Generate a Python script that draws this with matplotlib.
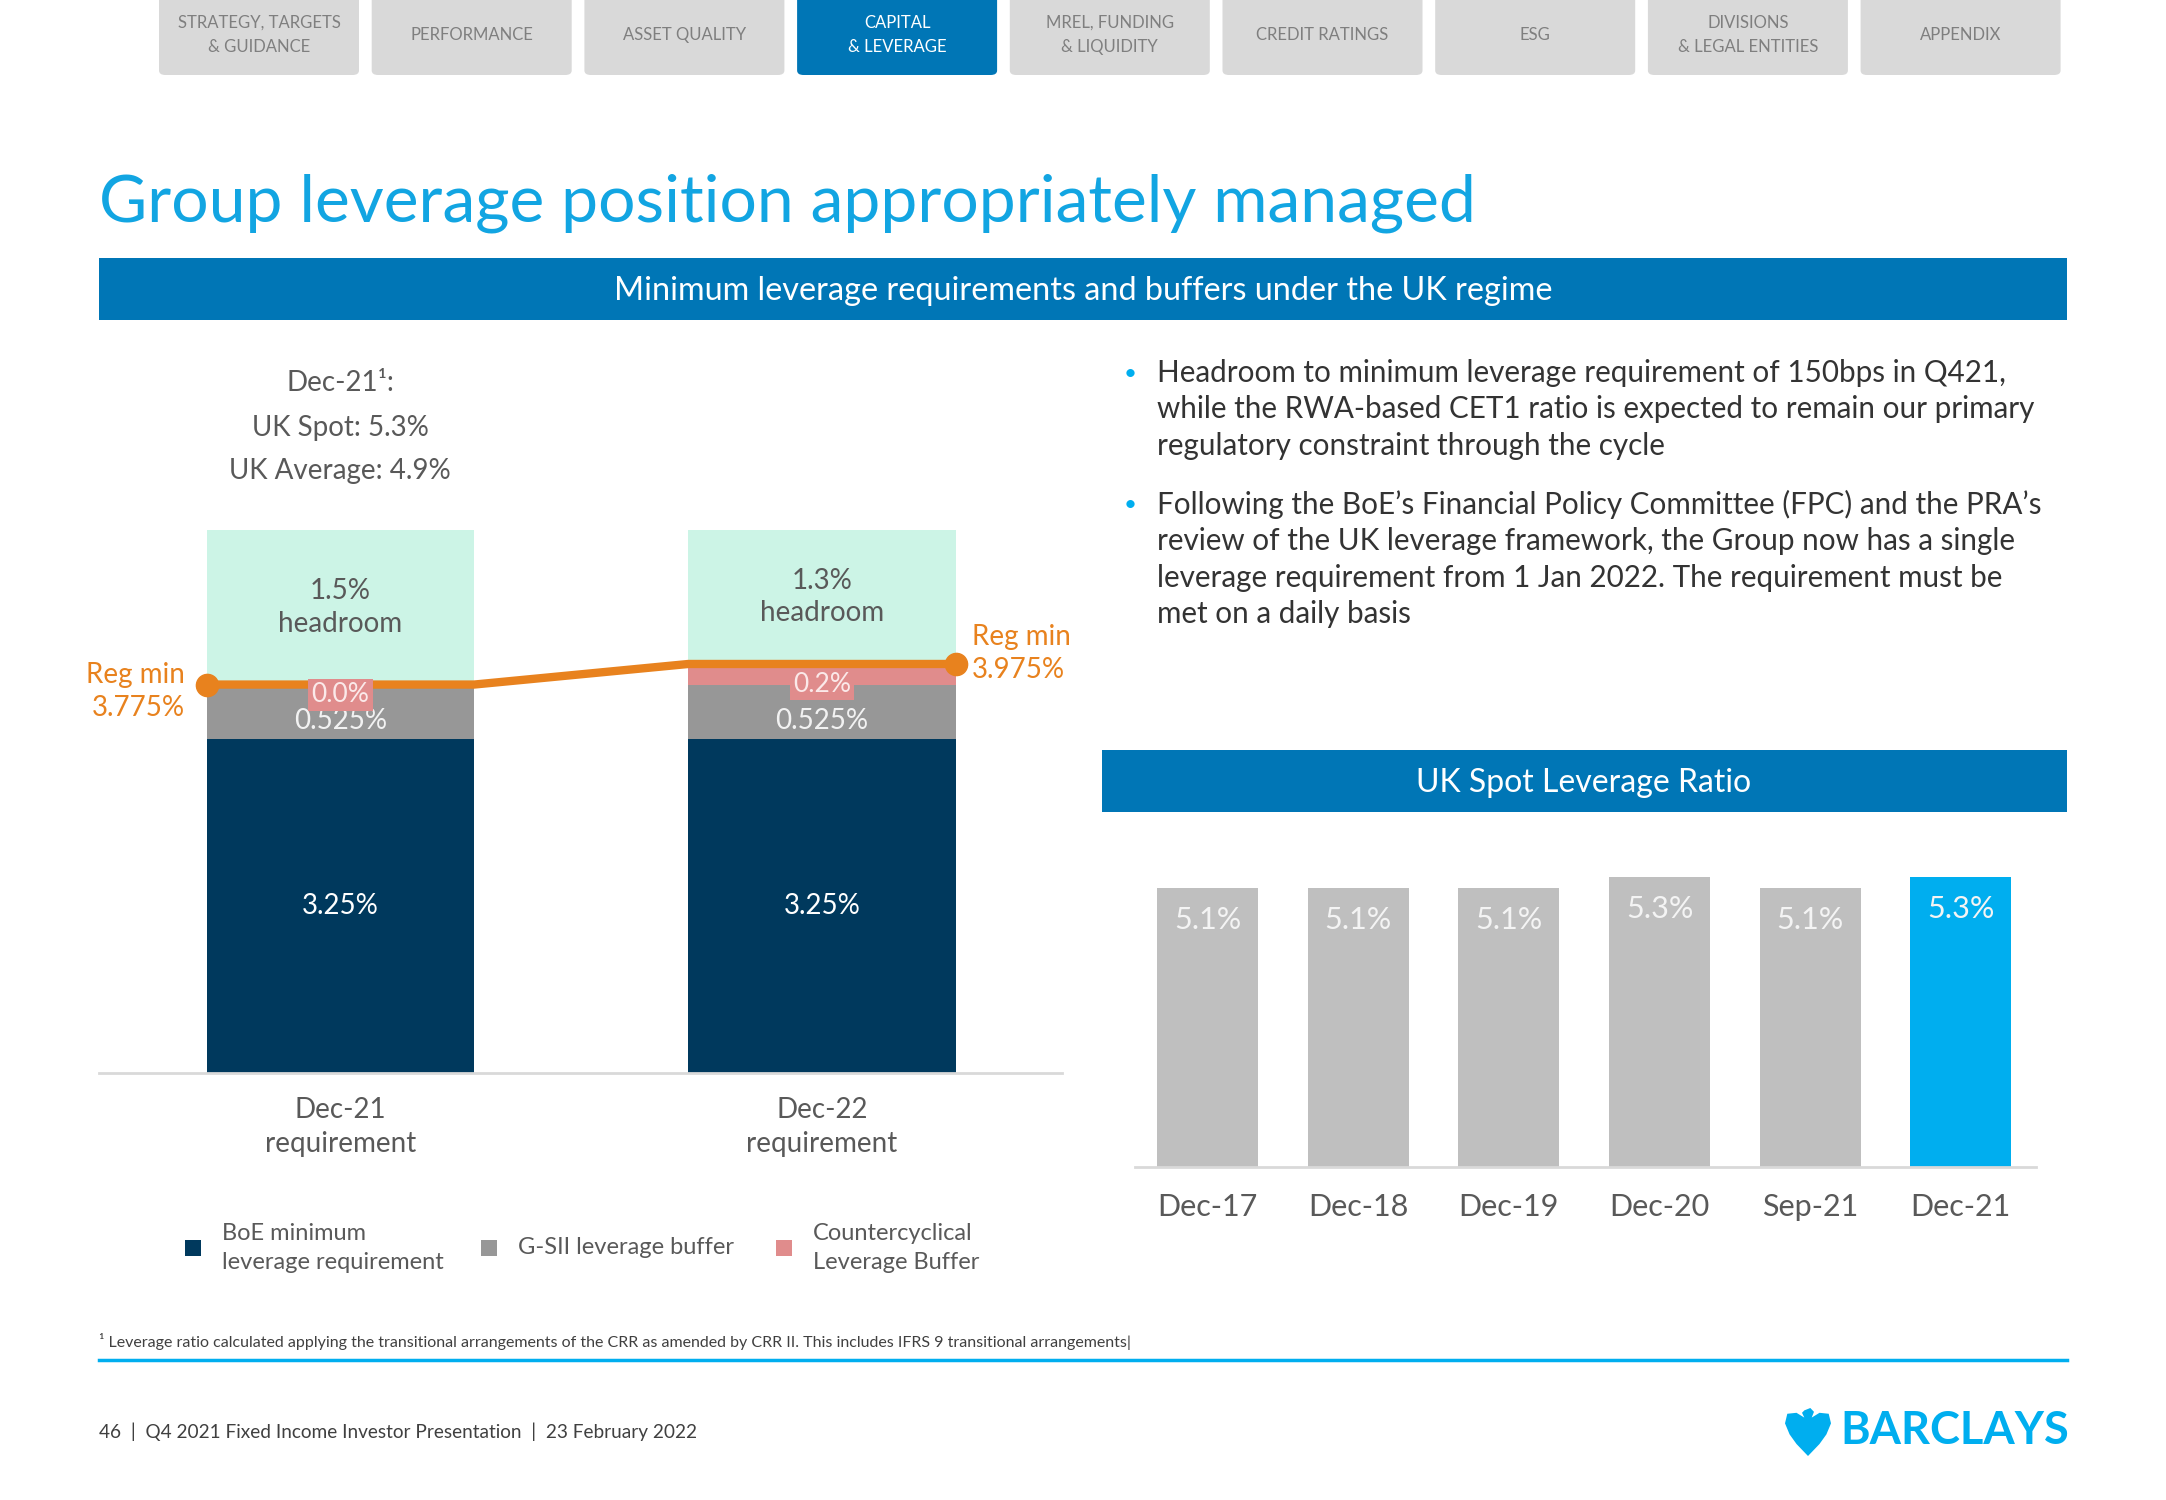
import matplotlib.pyplot as plt
from matplotlib.patches import Rectangle, FancyBboxPatch, Polygon
import numpy as np

plt.rcParams['font.family'] = ['Lato', 'DejaVu Sans']

# ---- data
req_labels = ['Dec-21\nrequirement', 'Dec-22\nrequirement']
boe_min = [3.25, 3.25]
gsii = [0.525, 0.525]
ccyb = [0.0, 0.2]
headroom = [1.5, 1.3]
reg_min = [3.775, 3.975]

spot_periods = ['Dec-17', 'Dec-18', 'Dec-19', 'Dec-20', 'Sep-21', 'Dec-21']
spot_ratio = [5.1, 5.1, 5.1, 5.3, 5.1, 5.3]

nav_tabs = ['STRATEGY, TARGETS\n& GUIDANCE', 'PERFORMANCE', 'ASSET QUALITY',
            'CAPITAL\n& LEVERAGE', 'MREL, FUNDING\n& LIQUIDITY', 'CREDIT RATINGS',
            'ESG', 'DIVISIONS\n& LEGAL ENTITIES', 'APPENDIX']
active_tab = 3

bullets = [
    "Headroom to minimum leverage requirement of 150bps in Q421,\n"
    "while the RWA-based CET1 ratio is expected to remain our primary\n"
    "regulatory constraint through the cycle",
    "Following the BoE\u2019s Financial Policy Committee (FPC) and the PRA\u2019s\n"
    "review of the UK leverage framework, the Group now has a single\n"
    "leverage requirement from 1 Jan 2022. The requirement must be\n"
    "met on a daily basis",
]

# colours
NAVY = '#00395D'
GREY = '#979797'
PINK = '#E08C8C'
MINT = '#CCF4E6'
ORANGE = '#E8821E'
CYAN = '#00AEEF'
BLUE = '#0076B6'
TXT = '#595959'

W, H = 2166, 1500
fig = plt.figure(figsize=(W / 100, H / 100), dpi=100)


def fx(x):
    return x / W


def fy(y):
    return 1 - y / H


def ftext(x, y, s, **kw):
    kw.setdefault('color', TXT)
    kw.setdefault('va', 'center')
    fig.text(fx(x), fy(y), s, **kw)


# ---- navigation tabs
for i, lab in enumerate(nav_tabs):
    x0 = 159 + i * 212.7
    fc = BLUE if i == active_tab else '#D9D9D9'
    tc = 'white' if i == active_tab else '#7F7F7F'
    fig.patches.append(FancyBboxPatch((fx(x0), fy(75)), 200 / W, 95 / H,
                                      boxstyle='round,pad=0,rounding_size=0.003',
                                      transform=fig.transFigure, fc=fc, ec='none'))
    ftext(x0 + 100, 35, lab, ha='center', fontsize=12, color=tc, linespacing=1.65)

# ---- title & banners
ftext(99, 203, 'Group leverage position appropriately managed', fontsize=47.5, color='#12A5E2')

fig.patches.append(Rectangle((fx(99), fy(320)), (2067 - 99) / W, 62 / H,
                             transform=fig.transFigure, fc=BLUE, ec='none'))
ftext(1083, 291, 'Minimum leverage requirements and buffers under the UK regime',
      ha='center', fontsize=23.3, color='white')

fig.patches.append(Rectangle((fx(1102), fy(812)), (2067 - 1102) / W, 62 / H,
                             transform=fig.transFigure, fc=BLUE, ec='none'))
ftext(1584, 783, 'UK Spot Leverage Ratio', ha='center', fontsize=23, color='white')

# ---- left chart: stacked requirement bars
ax1 = fig.add_axes([fx(99), fy(1073), (1062 - 99) / W, (1073 - 330) / H])
x = np.arange(len(req_labels))
bw = 0.555
b1 = np.array(boe_min)
b2 = b1 + np.array(gsii)
b3 = b2 + np.array(ccyb)
ax1.bar(x, boe_min, bw, color=NAVY)
ax1.bar(x, gsii, bw, bottom=b1, color=GREY)
ax1.bar(x, ccyb, bw, bottom=b2, color=PINK)
ax1.bar(x, headroom, bw, bottom=b3, color=MINT)

lx = np.ravel([[xi - bw / 2, xi + bw / 2] for xi in x])
ly = np.repeat(reg_min, 2)
ax1.plot(lx, ly, color=ORANGE, lw=6, solid_capstyle='butt')
ax1.plot(lx[[0, -1]], ly[[0, -1]], 'o', color=ORANGE, ms=16)

for i in x:
    ax1.text(i, boe_min[i] / 2, f'{boe_min[i]:.2f}%', ha='center', va='center',
             fontsize=20, color='white')
    ax1.text(i, b1[i] + gsii[i] / 2 - 0.09, f'{gsii[i]:.3f}%', ha='center', va='center',
             fontsize=20, color='#F2F2F2')
    ax1.text(i, b2[i] - 0.1 + ccyb[i] * 0.5, f'{ccyb[i]:.1f}%', ha='center', va='center',
             fontsize=19, color='#FBE9E9',
             bbox=dict(boxstyle='square,pad=0.12', fc=PINK, ec='none'))
    ax1.text(i, b3[i] + headroom[i] / 2, f'{headroom[i]:.1f}%\nheadroom', ha='center',
             va='center', fontsize=20, color=TXT, linespacing=1.3)

ax1.text(-bw / 2 - 0.045, reg_min[0] - 0.07, f'Reg min\n{reg_min[0]}%', ha='right',
         va='center', fontsize=20, color=ORANGE, linespacing=1.35)
ax1.text(1 + bw / 2 + 0.033, reg_min[1] + 0.1, f'Reg min\n{reg_min[1]}%', ha='left',
         va='center', fontsize=20, color=ORANGE, linespacing=1.35)

ax1.set_xlim(-0.5016, 1.4984)
ax1.set_ylim(0, (1073 - 330) / 102.9)
ax1.set_xticks(x, req_labels, fontsize=20, color=TXT, linespacing=1.4)
ax1.tick_params(axis='x', length=0, pad=17)
ax1.set_yticks([])
for s in ['top', 'left', 'right']:
    ax1.spines[s].set_visible(False)
ax1.spines['bottom'].set_color('#D9D9D9')
ax1.spines['bottom'].set_linewidth(2)
ax1.patch.set_alpha(0)

ftext(340, 383, 'Dec-21\u00b9:', ha='center', fontsize=20)
ftext(340, 428, 'UK Spot: 5.3%', ha='center', fontsize=20)
ftext(340, 471, 'UK Average: 4.9%', ha='center', fontsize=20)

# legend
leg_items = [(NAVY, 'BoE minimum\nleverage requirement', 185, 222),
             (GREY, 'G-SII leverage buffer', 481, 518),
             (PINK, 'Countercyclical\nLeverage Buffer', 776, 813)]
for c, lab, sx, tx in leg_items:
    fig.patches.append(Rectangle((fx(sx), fy(1256)), 16 / W, 16 / H,
                                 transform=fig.transFigure, fc=c, ec='none'))
    ftext(tx, 1248, lab, fontsize=17, linespacing=1.45)

# ---- right chart: spot leverage ratio
ax2 = fig.add_axes([fx(1135), fy(1167), (2036 - 1135) / W, (1167 - 820) / H])
xs = np.arange(len(spot_periods))
cols = ['#BFBFBF'] * (len(xs) - 1) + [CYAN]
ax2.bar(xs, spot_ratio, 0.67, color=cols)
for i, v in enumerate(spot_ratio):
    ax2.text(i, v - 0.58, f'{v:.1f}%', ha='center', va='center', fontsize=22,
             color='#F4F4F4')
ax2.set_xlim(-0.483, 5.5)
ax2.set_ylim(0, (1167 - 820) / 54.7)
ax2.set_xticks(xs, spot_periods, fontsize=22, color=TXT)
ax2.tick_params(axis='x', length=0, pad=19)
ax2.set_yticks([])
for s in ['top', 'left', 'right']:
    ax2.spines[s].set_visible(False)
ax2.spines['bottom'].set_color('#D9D9D9')
ax2.spines['bottom'].set_linewidth(2)
ax2.patch.set_alpha(0)

# ---- bullets
by = [373, 504]
for yb, txt in zip(by, bullets):
    ftext(1124, yb + 1, '\u2022', fontsize=16, color=CYAN)
    ftext(1157, yb - 14, txt, va='top', fontsize=21.3, color='#333333', linespacing=1.36)

# ---- footnote & footer
ftext(99, 1342, '\u00b9 Leverage ratio calculated applying the transitional arrangements of the '
      'CRR as amended by CRR II. This includes IFRS 9 transitional arrangements|',
      fontsize=11.5, color='#404040')
fig.add_artist(plt.Line2D([fx(99), fx(2067)], [fy(1360), fy(1360)], color=CYAN, lw=2.5))
ftext(99, 1432, '46  |  Q4 2021 Fixed Income Investor Presentation  |  23 February 2022',
      fontsize=13.7, color='#404040')

# logo
eagle = [(0.42, 0.05), (0.55, 0.0), (0.63, 0.08), (0.58, 0.2), (0.75, 0.1), (0.95, 0.12),
         (1.0, 0.32), (0.9, 0.55), (0.75, 0.75), (0.56, 0.94), (0.5, 1.0), (0.44, 0.94),
         (0.25, 0.75), (0.1, 0.55), (0.0, 0.32), (0.05, 0.12), (0.25, 0.1), (0.42, 0.2),
         (0.37, 0.1)]
ex0, ey0, ew, eh = 1785, 1408, 46, 48
fig.patches.append(Polygon([(fx(ex0 + px * ew), fy(ey0 + py * eh)) for px, py in eagle],
                           closed=True, transform=fig.transFigure, fc=CYAN, ec='none'))
ftext(1840, 1431, 'BARCLAYS', fontsize=32.5, fontweight='bold', color=CYAN)

fig.savefig('out.png', dpi=100, facecolor='white')
